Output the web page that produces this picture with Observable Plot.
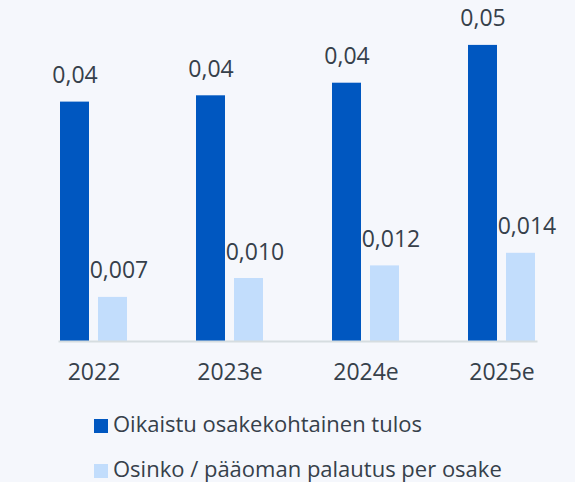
<!DOCTYPE html>
<html>
<head>
<meta charset="utf-8">
<script src="https://cdn.jsdelivr.net/npm/d3@7"></script>
<script src="https://cdn.jsdelivr.net/npm/@observablehq/plot@0.6"></script>
<style>
  html, body { margin: 0; padding: 0; background: #f5f7fc; }
  body { position: relative; width: 575px; height: 482px; overflow: hidden; font-family: "Open Sans", sans-serif; color: #36404a; }
  #chart svg { display: block; }
  #legend { position: absolute; left: 94px; top: 400px; }
  .item { display: flex; align-items: center; height: 45px; font-size: 22px; line-height: 30px; white-space: nowrap; }
  .sw { width: 14px; height: 14px; margin-right: 5px; flex: none; position: relative; top: 3px; }
</style>
</head>
<body>
<div id="chart"></div>
<div id="legend"></div>
<script>
const years = ["2022", "2023e", "2024e", "2025e"];
const seriesNames = ["Oikaistu osakekohtainen tulos", "Osinko / pääoman palautus per osake"];
const epsValues = [0.038, 0.039, 0.041, 0.047];
const dividendValues = [0.007, 0.010, 0.012, 0.014];
const epsLabels = ["0,04", "0,04", "0,04", "0,05"];
const dividendLabels = ["0,007", "0,010", "0,012", "0,014"];
const colors = ["#0057c0", "#c2ddfc"];

const data = years.flatMap((year, i) => [
  { year, series: seriesNames[0], value: epsValues[i], label: epsLabels[i] },
  { year, series: seriesNames[1], value: dividendValues[i], label: dividendLabels[i] }
]);

const chart = Plot.plot({
  width: 575,
  height: 390,
  marginTop: 26,
  marginBottom: 49,
  marginLeft: 24,
  marginRight: 4,
  style: { background: "transparent", fontFamily: "'Open Sans', sans-serif", fontSize: "23px", color: "#36404a" },
  fx: { domain: years, paddingInner: 0.495, paddingOuter: 0.2475, label: null, tickSize: 0, tickPadding: 22 },
  x: { domain: seriesNames, paddingInner: 0.23, paddingOuter: 0, axis: null },
  y: { domain: [0, 0.05], axis: null },
  color: { domain: seriesNames, range: colors },
  marks: [
    Plot.barY(data, { fx: "year", x: "series", y: "value", fill: "series" }),
    Plot.frame({ anchor: "bottom", facet: "super", stroke: "#d6dde0", strokeWidth: 2 }),
    Plot.text(data.filter(d => d.series === seriesNames[0]), { fx: "year", x: "series", y: "value", text: "label", lineAnchor: "bottom", dy: -19, fontSize: 23, fill: "#36404a" }),
    Plot.text(data.filter(d => d.series === seriesNames[1]), { fx: "year", x: "series", y: "value", text: "label", lineAnchor: "bottom", dy: -19, dx: 6, fontSize: 23, fill: "#36404a" })
  ]
});
document.getElementById("chart").append(chart);

const legend = document.getElementById("legend");
seriesNames.forEach((name, i) => {
  const item = document.createElement("div");
  item.className = "item";
  const sw = document.createElement("span");
  sw.className = "sw";
  sw.style.background = colors[i];
  const label = document.createElement("span");
  label.textContent = name;
  item.append(sw, label);
  legend.append(item);
});
</script>
</body>
</html>
